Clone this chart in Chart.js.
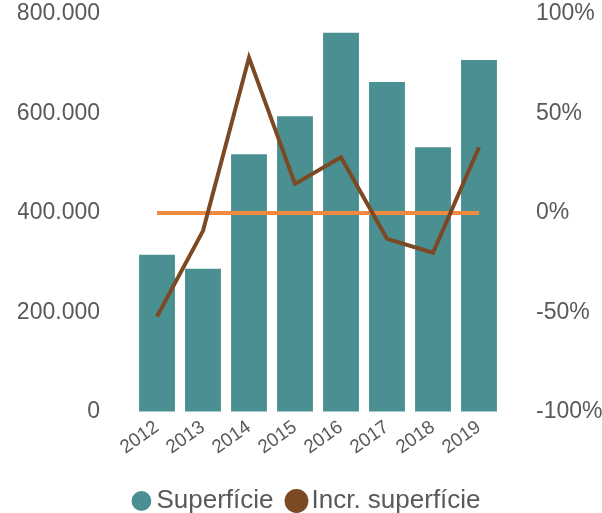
<!DOCTYPE html>
<html>
<head>
<meta charset="utf-8">
<script src="https://cdn.jsdelivr.net/npm/chart.js@4"></script>
<style>
  body { margin: 0; background: #fff; }
  #wrap { width: 602px; height: 513px; }
</style>
</head>
<body>
<div id="wrap"><canvas id="grafico"></canvas></div>
<script>
var anos = ["2012", "2013", "2014", "2015", "2016", "2017", "2018", "2019"];
var superficie = [316000, 288000, 518000, 594000, 762000, 663000, 532000, 707000];
var incrSuperficie = [-0.52, -0.09, 0.78, 0.146, 0.28, -0.13, -0.20, 0.33];
var linhaZero = [0, 0, 0, 0, 0, 0, 0, 0];

var corBarra = "#4a8f91";
var corLinha = "#7b4a24";
var corZero = "#f08a40";
var corTexto = "#595959";
var fonte = "'Liberation Sans', Arial, sans-serif";

function formatarMilhar(v) {
  return String(v).replace(/\B(?=(\d{3})+(?!\d))/g, ".");
}

// grade invisivel, so para afastar os rotulos do eixo
var gradeOculta = {
  display: true,
  drawOnChartArea: false,
  drawTicks: true,
  tickLength: 34,
  color: "rgba(0,0,0,0)",
};

new Chart(document.getElementById("grafico"), {
  data: {
    labels: anos,
    datasets: [
      {
        type: "line",
        label: "Incr. superfície",
        data: incrSuperficie,
        yAxisID: "y2",
        borderColor: corLinha,
        backgroundColor: corLinha,
        borderWidth: 4,
        pointRadius: 0,
        tension: 0,
        order: 0,
      },
      {
        type: "line",
        label: "zero",
        data: linhaZero,
        yAxisID: "y2",
        borderColor: corZero,
        backgroundColor: corZero,
        borderWidth: 4,
        pointRadius: 0,
        order: 1,
      },
      {
        type: "bar",
        label: "Superfície",
        data: superficie,
        yAxisID: "y",
        backgroundColor: corBarra,
        borderWidth: 0,
        categoryPercentage: 1,
        barPercentage: 0.78,
        order: 2,
      },
    ],
  },
  options: {
    responsive: true,
    maintainAspectRatio: false,
    animation: false,
    layout: { padding: { top: 2, left: 18, bottom: -11 } },
    plugins: {
      tooltip: { enabled: false },
      legend: {
        position: "bottom",
        labels: {
          font: { family: fonte, size: 26 },
          color: corTexto,
          usePointStyle: true,
          pointStyle: "circle",
          boxWidth: 4,
          boxHeight: 14,
          padding: 21,
          filter: function (item) { return item.text !== "zero"; },
          sort: function (a, b) { return b.datasetIndex - a.datasetIndex; },
        },
      },
    },
    scales: {
      x: {
        grid: { display: false, drawTicks: false },
        border: { display: false },
        ticks: {
          font: { family: fonte, size: 19 },
          color: corTexto,
          minRotation: 35,
          maxRotation: 35,
          padding: 4,
        },
        afterFit: function (s) { s.height += 4; },
      },
      y: {
        position: "left",
        min: 0,
        max: 800000,
        grid: gradeOculta,
        border: { display: false },
        ticks: {
          stepSize: 200000,
          font: { family: fonte, size: 23 },
          color: corTexto,
          padding: 0,
          callback: function (v) { return formatarMilhar(v); },
        },
        afterFit: function (s) { s.width = 116; },
      },
      y2: {
        position: "right",
        min: -1,
        max: 1,
        grid: gradeOculta,
        border: { display: false },
        ticks: {
          stepSize: 0.5,
          font: { family: fonte, size: 23 },
          color: corTexto,
          padding: 0,
          callback: function (v) { return Math.round(v * 100) + "%"; },
        },
        afterFit: function (s) { s.width = 100; },
      },
    },
  },
});
</script>
</body>
</html>
